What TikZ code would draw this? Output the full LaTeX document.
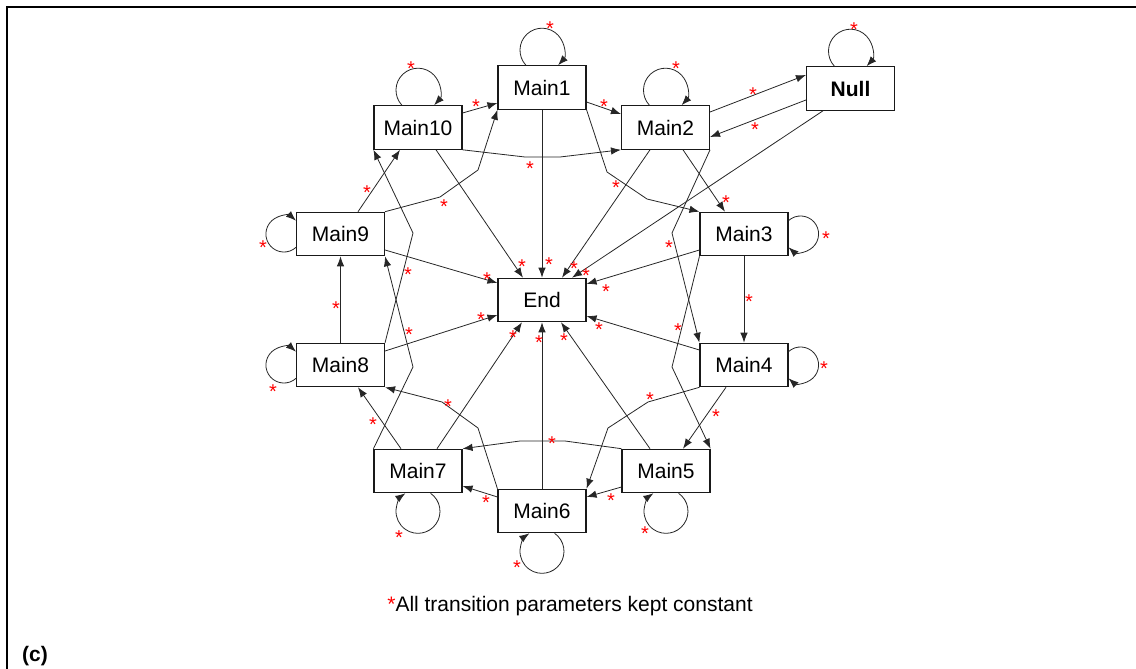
\documentclass[tikz,border=0pt]{standalone}
\usepackage{fontspec}
\setmainfont{Liberation Sans}
\usetikzlibrary{arrows.meta}
\begin{document}
\begin{tikzpicture}[x=1pt,y=1pt,
  box/.style={draw=black!90, line width=1.1pt, fill=white, minimum width=88pt, minimum height=43.5pt, inner sep=0pt, font=\fontsize{21}{24}\selectfont},
  arr/.style={draw=black!85, line width=0.8pt, -{Latex[length=10pt,width=7.5pt]}},
  ast/.style={text=red, font=\fontsize{20}{20}\selectfont, inner sep=0pt, yshift=-4.3pt}]
\useasboundingbox (0,0) rectangle (1136,-669);
% frame
\draw[line width=2pt] (7,-669) -- (7,-7.5) -- (1136,-7.5);
% nodes
\node[box] (Main1) at (542,-87.5) {Main1};
\node[box] (Main10) at (418,-127.5) {Main10};
\node[box] (Main2) at (665.5,-127.5) {Main2};
\node[box,font=\fontsize{21}{24}\selectfont\bfseries] (Null) at (850.5,-88.5) {Null};
\node[box] (Main9) at (340.5,-234) {Main9};
\node[box] (Main8) at (340.5,-365) {Main8};
\node[box] (End) at (542,-300) {End};
\node[box] (Main3) at (744,-234) {Main3};
\node[box] (Main4) at (744,-365) {Main4};
\node[box] (Main7) at (418,-471) {Main7};
\node[box] (Main6) at (542,-511) {Main6};
\node[box] (Main5) at (666,-471) {Main5};
% self loops
\foreach \n in {Main1,Main10,Main2,Null}
  \draw[arr] ([xshift=-16.1pt]\n.north) arc[start angle=223,end angle=-43,radius=22pt];
\foreach \n in {Main9,Main8}
  \draw[arr] ([yshift=-13.4pt]\n.west) arc[start angle=-48,end angle=-312,radius=18pt];
\foreach \n in {Main3,Main4}
  \draw[arr] ([yshift=13.4pt]\n.east) arc[start angle=132,end angle=-132,radius=18pt];
\foreach \n in {Main7,Main6,Main5}
  \draw[arr] ([xshift=12.6pt]\n.south) arc[start angle=55,end angle=-235,radius=22pt];
% edges into End
\draw[arr] ([xshift=18pt]Main10.south) -- ([xshift=-19pt]End.north);
\draw[arr] (Main1.south) -- (End.north);
\draw[arr] ([xshift=-15.5pt]Main2.south) -- ([xshift=20pt]End.north);
\draw[arr] ([xshift=-27.5pt]Null.south) -- ([xshift=30pt]End.north);
\draw[arr] ([yshift=-16pt]Main9.east) -- ([yshift=17pt]End.west);
\draw[arr] ([yshift=-16pt]Main3.west) -- ([yshift=16pt]End.east);
\draw[arr] ([yshift=14pt]Main8.east) -- ([yshift=-15pt]End.west);
\draw[arr] ([yshift=15pt]Main4.west) -- ([yshift=-16pt]End.east);
\draw[arr] ([xshift=19pt]Main7.north) -- ([xshift=-20pt]End.south);
\draw[arr] (Main6.north) -- (End.south);
\draw[arr] ([xshift=-16pt]Main5.north) -- ([xshift=19pt]End.south);
% ring edges
\draw[arr] ([yshift=14.5pt]Main10.east) -- ([yshift=-15.5pt]Main1.west);
\draw[arr] ([yshift=-14.5pt]Main1.east) -- ([yshift=13.5pt]Main2.west);
\draw[arr] ([yshift=15.5pt]Main2.east) -- ([yshift=13.5pt]Null.west);
\draw[arr] ([yshift=-11.5pt]Null.west) -- ([yshift=-9.5pt]Main2.east);
\draw[arr] ([xshift=17.5pt]Main2.south) -- ([xshift=-19pt]Main3.north);
\draw[arr] (Main3.south) -- (Main4.north);
\draw[arr] ([xshift=-18pt]Main4.south) -- ([xshift=17pt]Main5.north);
\draw[arr] ([yshift=-16pt]Main5.west) -- ([yshift=14pt]Main6.east);
\draw[arr] ([yshift=14pt]Main6.west) -- ([yshift=-15pt]Main7.east);
\draw[arr] ([xshift=-17pt]Main7.north) -- ([xshift=17.5pt]Main8.south);
\draw[arr] (Main8.north) -- (Main9.south);
\draw[arr] ([xshift=17.5pt]Main9.north) -- ([xshift=-18pt]Main10.south);
% skip-one edges
\draw[arr] (Main10.south east) -- (525,-157) -- (560,-157) -- (Main2.south west);
\draw[arr] (Main9.north east) -- (440,-197) -- (478,-170) -- (Main1.south west);
\draw[arr] (Main1.south east) -- (607,-172) -- (647,-199) -- (Main3.north west);
\draw[arr] (Main2.south east) -- (672,-233) -- (Main4.north west);
\draw[arr] (Main3.south west) -- (672,-367) -- (Main5.north east);
\draw[arr] (Main4.south west) -- (648,-402) -- (608,-428) -- (Main6.north east);
\draw[arr] (Main5.north west) -- (565,-441) -- (520,-441) -- (Main7.north east);
\draw[arr] (Main6.north west) -- (478,-428) -- (442,-402) -- (Main8.south east);
\draw[arr] (Main7.north west) -- (413,-367) -- (Main9.south east);
\draw[arr] (Main8.north east) -- (413,-233) -- (Main10.south west);
% asterisks
\foreach \x/\y [count=\i] in {550/24,411/64,676/64,854/25,263/243,273/387,826/234,824/364,399/533,517/563,645/529,
  476/102,604/102,753/90,755/125,726/198,749/297,716/412,611/496,486/498,373/420,336/304,367/188,
  530/164,444/202,616/183,669/243,678/326,408/270,409/330,650/395,552/439,448/402,
  522/262,549/260,574/264,586/271,487/275,606/287,481/315,599/325,513/333,539/338,564/336}
  \node[ast] (s\i) at (\x,-\y) {*};
% caption
\node[font=\fontsize{21}{24}\selectfont] (cap) at (570,-606) {\textcolor{red}{*}All transition parameters kept constant};
\node[font=\fontsize{21}{24}\selectfont\bfseries, anchor=west, inner sep=0pt] (lab) at (22,-656) {(c)};
\end{tikzpicture}
\end{document}
